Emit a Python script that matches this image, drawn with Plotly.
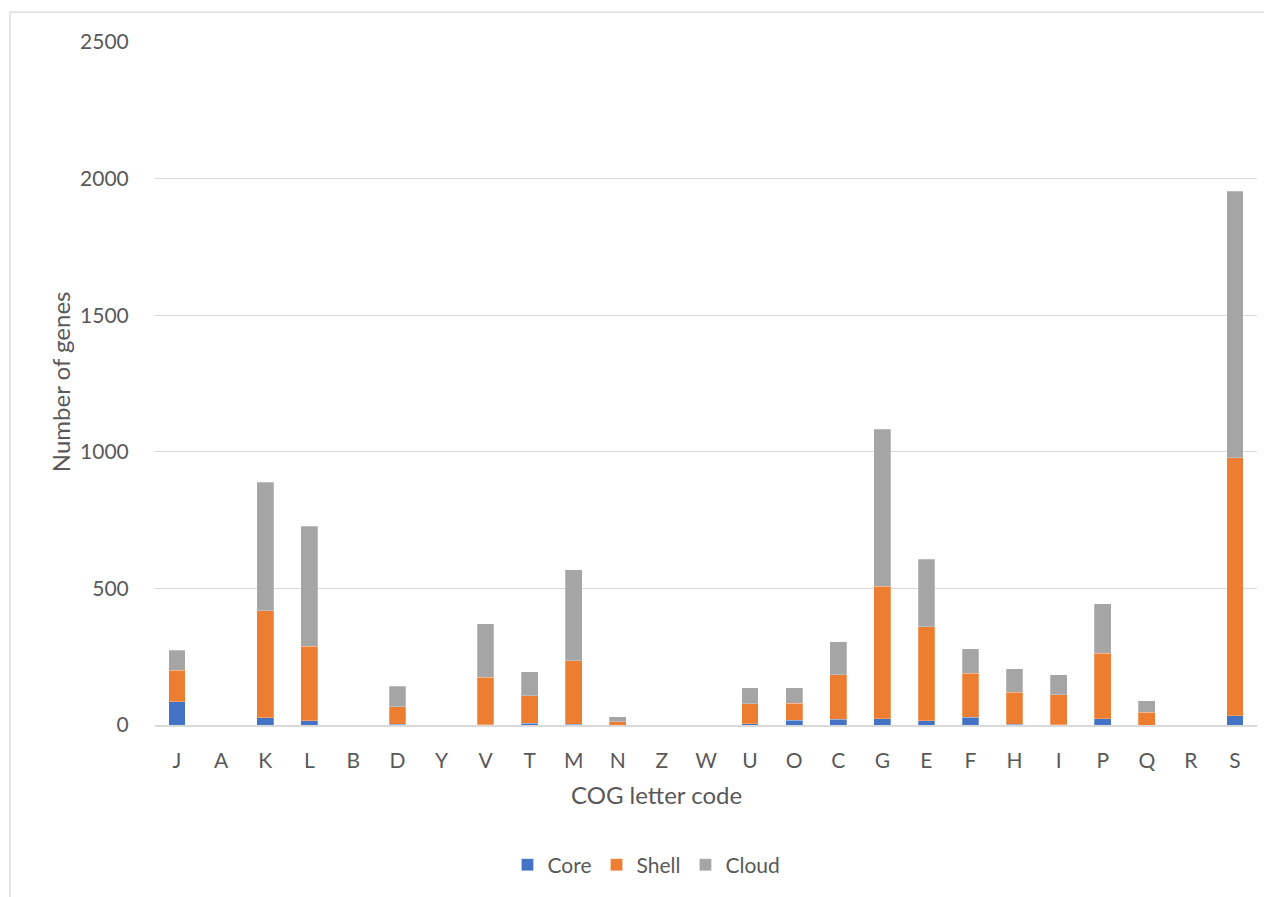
import plotly.graph_objects as go

categories = ["J", "A", "K", "L", "B", "D", "Y", "V", "T", "M", "N", "Z", "W",
              "U", "O", "C", "G", "E", "F", "H", "I", "P", "Q", "R", "S"]
core =  [85, 0, 27, 15, 0, 2, 0, 1, 7, 2, 0, 0, 0, 5, 17, 21, 22, 15, 29, 2, 1, 22, 0, 0, 33]
shell = [116, 0, 392, 273, 0, 64, 0, 174, 100, 233, 12, 0, 0, 72, 63, 163, 485, 345, 160, 118, 109, 241, 47, 0, 945]
cloud = [73, 0, 469, 440, 0, 76, 0, 195, 88, 333, 19, 0, 0, 60, 57, 120, 576, 247, 90, 86, 74, 180, 42, 0, 975]

y_ticks = [0, 500, 1000, 1500, 2000, 2500]

FONT = "Lato"
TXT = "#595959"
GRID = "#D9D9D9"

fig = go.Figure()
for name, vals, col in [("Core", core, "#4472C4"), ("Shell", shell, "#ED7D31"), ("Cloud", cloud, "#A5A5A5")]:
    fig.add_trace(go.Bar(name=name, x=categories, y=vals, marker_color=col,
                         marker_line=dict(color="rgba(255,255,255,0.5)", width=0.5)))

fig.update_layout(
    barmode="stack",
    bargap=0.62,
    width=1264, height=889,
    margin=dict(l=147, r=15, t=34, b=170),
    paper_bgcolor="white", plot_bgcolor="white",
    font=dict(family=FONT, color=TXT, size=21),
    showlegend=True,
    legend=dict(orientation="h", x=0.446, xanchor="center", y=-0.205, yanchor="middle",
                font=dict(size=21, color=TXT), traceorder="normal", itemwidth=30),
    xaxis=dict(showgrid=False, showline=True, linecolor=GRID, linewidth=1.5,
               ticks="outside", ticklen=16, tickcolor="rgba(0,0,0,0)",
               tickfont=dict(size=21, color=TXT)),
    yaxis=dict(range=[0, 2500], tickvals=y_ticks, showgrid=True, gridcolor=GRID, gridwidth=1.3,
               zeroline=False, showline=False,
               ticks="outside", ticklen=21, tickcolor="rgba(0,0,0,0)",
               tickfont=dict(size=21, color=TXT)),
    annotations=[
        dict(text="Number of genes", xref="paper", yref="paper", x=-0.0862, y=0.502,
             textangle=-90, showarrow=False, font=dict(size=24, color=TXT),
             xanchor="center", yanchor="middle"),
        dict(text="COG letter code", xref="paper", yref="paper", x=0.455, y=-0.102,
             showarrow=False, font=dict(size=24, color=TXT),
             xanchor="center", yanchor="middle"),
    ],
    shapes=[dict(type="rect", xref="paper", yref="paper", x0=-0.1316, x1=1.02,
                 y0=-0.26, y1=1.0438, line=dict(color=GRID, width=1.3), layer="below")],
)

fig.write_html("out.html")
